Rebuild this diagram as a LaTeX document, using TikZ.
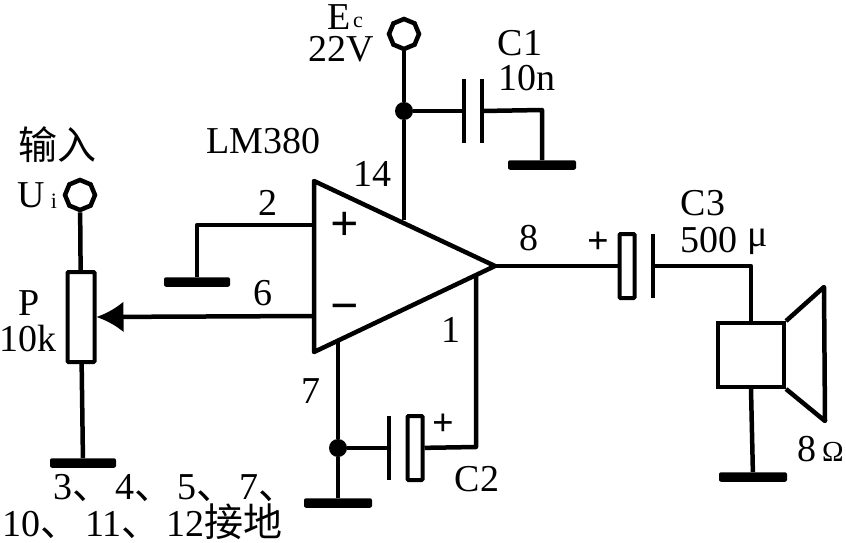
\documentclass[tikz,border=0pt]{standalone}
\usepackage{fontspec}
\setmainfont{Liberation Serif}
\newfontfamily\cjk{Noto Sans CJK SC}
\usetikzlibrary{arrows.meta,shapes.geometric}
\newcommand{\zh}[1]{{\fontsize{39}{39}\cjk #1}}
\tikzset{
  wire/.style={line width=4.5pt,line join=round},
  term/.style={draw,line width=4.5pt,regular polygon,regular polygon sides=8,shape border rotate=22.5,inner sep=0pt,minimum size=30pt,fill=white},
  gnd/.style={fill=black,rounded corners=2pt,inner sep=0pt,minimum width=66pt,minimum height=9.5pt},
  plate/.style={fill=black,inner sep=0pt,minimum width=4.5pt,minimum height=64pt},
  elcap/.style={draw,line width=4pt,fill=white,rounded corners=1pt,inner sep=0pt},
  dot/.style={circle,fill=black,inner sep=0pt,minimum size=18pt},
  lbl/.style={inner sep=0pt,font=\fontsize{38}{38}\selectfont},
  sub/.style={inner sep=0pt,font=\fontsize{22}{22}\selectfont},
  sign/.style={inner sep=0pt,font=\bfseries\fontsize{50}{50}\selectfont},
  signs/.style={inner sep=0pt,font=\bfseries\fontsize{38}{38}\selectfont}
}
\begin{document}
\begin{tikzpicture}[x=1pt,y=-1pt]
  \useasboundingbox (0,0) rectangle (846,543);

  % op amp
  \coordinate (opa) at (314,181);
  \coordinate (opb) at (314,352);
  \coordinate (opc) at (495,266);
  \draw[wire] (opa) -- (opc) -- (opb) -- cycle;
  \coordinate (pinp) at (314,225);
  \coordinate (pinn) at (314,316);
  \coordinate (pinv) at (404,220);
  \coordinate (pina) at (338,341);
  \coordinate (pinb) at (476,276);

  % input and potentiometer
  \node[term] (ui) at (80,195) {};
  \node[elcap,minimum width=27pt,minimum height=90pt] (pot) at (81,317) {};
  \node[gnd] (gndp) at (83,463) {};
  \draw[wire] (ui) -- (pot);
  \draw[wire] (pot) -- (gndp);
  \draw[wire,-{Latex[length=27pt,width=31pt]}] (pinn) -- (pot.east);

  % pin 2 to ground
  \node[gnd] (gndb) at (197,282) {};
  \coordinate (bend) at (197,225);
  \draw[wire] (pinp) -- (bend) -- (gndb);

  % supply and C1
  \node[term] (ec) at (404,34) {};
  \node[dot] (jca) at (404,111) {};
  \node[plate] (caa) at (464,111) {};
  \node[plate] (cab) at (482,111) {};
  \node[gnd,minimum width=68pt] (gnda) at (542,165) {};
  \coordinate (benda) at (542,110);
  \draw[wire] (ec) -- (jca) -- (pinv);
  \draw[wire] (jca) -- (caa);
  \draw[wire] (cab.center) -- (benda) -- (gnda);

  % pin 7 and C2
  \node[dot] (jcb) at (338,448) {};
  \node[plate] (cba) at (389,448) {};
  \node[elcap,minimum width=15pt,minimum height=64pt] (cbb) at (415,448) {};
  \node[gnd,minimum width=68pt] (gndc) at (338,503) {};
  \coordinate (bendb) at (476,447);
  \draw[wire] (pina) -- (jcb) -- (gndc);
  \draw[wire] (jcb) -- (cba);
  \draw[wire] (cbb) -- (bendb) -- (pinb);

  % output, C3 and speaker
  \node[elcap,minimum width=15pt,minimum height=64pt] (ccb) at (627,266) {};
  \node[plate] (cca) at (653,266) {};
  \node[elcap,minimum width=66pt,minimum height=64pt,rounded corners=0pt] (spk) at (751,355) {};
  \node[gnd,minimum width=68pt] (gndd) at (753,477) {};
  \coordinate (bendc) at (751,266);
  \coordinate (cona) at (824,287);
  \coordinate (conb) at (825,421);
  \draw[wire] (opc) -- (ccb);
  \draw[wire] (cca.center) -- (bendc) -- (spk);
  \draw[wire] (spk.south) -- (gndd);
  \draw[wire] (spk.north east) -- (cona) -- (conb) -- (spk.south east);

  % plus and minus signs
  \node[sign] (ppl) at (345,226) {+};
  \node[sign] (mns) at (345,313) {\textminus};
  \node[signs] (ppb) at (443,425) {+};
  \node[signs] (ppc) at (598,243) {+};

  % labels
  \node[inner sep=0pt] (tin) at (58,145) {\zh{输入}};
  \node[lbl] (tu) at (31,195) {U};
  \node[sub] (tui) at (54,201) {i};
  \node[lbl] (tp) at (29,303) {P};
  \node[lbl] (tpv) at (28,338) {10k};
  \node[lbl] (tlm) at (263,141) {LM380};
  \node[lbl] (te) at (339,17) {E};
  \node[sub] (tec) at (358,22) {c};
  \node[lbl] (tev) at (341,49) {22V};
  \node[lbl] (tca) at (520,43) {C1};
  \node[lbl] (tcav) at (527,78) {10n};
  \node[lbl] (tcb) at (477,479) {C2};
  \node[lbl] (tcc) at (703,203) {C3};
  \node[lbl,anchor=base west] (tccv) at (680,252) {500\kern10pt\raisebox{6pt}{μ}};
  \node[lbl,anchor=base west] (tsp) at (797,461) {8\kern6pt\fontsize{29}{29}\selectfont Ω};
  \node[lbl] (tpa) at (372,174) {14};
  \node[lbl] (tpb) at (268,203) {2};
  \node[lbl] (tpc) at (263,293) {6};
  \node[lbl] (tpd) at (311,391) {7};
  \node[lbl] (tpe) at (451,330) {1};
  \node[lbl] (tpf) at (529,238) {8};
  \node[lbl,anchor=base west] (tna) at (53,499) {3\zh{、}\kern4pt 4\zh{、}\kern4pt 5\zh{、}\kern4pt 7\zh{、}};
  \node[lbl,anchor=base west] (tnb) at (2,536) {10\zh{、}\kern6pt 11\zh{、}\kern6pt 12\zh{接地}};
\end{tikzpicture}
\end{document}
